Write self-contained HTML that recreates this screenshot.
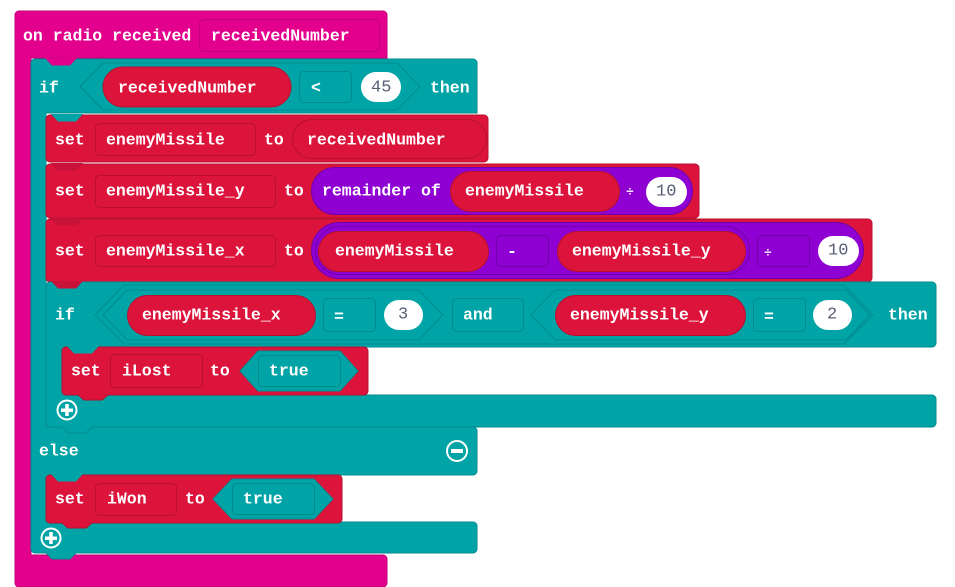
<!DOCTYPE html>
<html><head><meta charset="utf-8"><style>
html,body{margin:0;padding:0;background:#fff;width:955px;height:587px;overflow:hidden}
svg{display:block}
text{font-family:"Liberation Mono","DejaVu Sans Mono",monospace;font-weight:bold;font-size:16.5px;fill:#fff;dominant-baseline:central}
.n{fill:#575e75;font-weight:normal;font-size:17px}
</style></head><body>
<svg width="955" height="587" viewBox="0 0 955 587" xmlns="http://www.w3.org/2000/svg">
<!-- magenta hat -->
<path d="M19 11 H383 a4 4 0 0 1 4 4 V58 H31 V555 H383 a4 4 0 0 1 4 4 V583 a4 4 0 0 1 -4 4 H19 a4 4 0 0 1 -4 -4 V15 a4 4 0 0 1 4 -4Z" fill="#e3008c" stroke="#c4007a" stroke-width="1"/>
<text x="23" y="36">on radio received</text>
<rect x="199.5" y="19.5" width="180" height="32" rx="4" fill="#e3008c" stroke="#c0007a"/>
<text x="211" y="36">receivedNumber</text>

<!-- outer if -->
<path d="M35 59 H46 L52 65 H70 L76 59 H473 a4 4 0 0 1 4 4 V113 H46 V427 H473 a4 4 0 0 1 4 4 V471 a4 4 0 0 1 -4 4 H46 V522 H473 a4 4 0 0 1 4 4 V549 a4 4 0 0 1 -4 4 H76 L70 559 H52 L46 553 H35 a4 4 0 0 1 -4 -4 V63 a4 4 0 0 1 4 -4Z" fill="#00a4a6" stroke="#008b8d"/>
<polygon points="45,58 52,65.5 70,65.5 77,58" fill="#e3008c"/>
<text x="39" y="88">if</text>
<polygon points="80,86.5 103,63 397,63 420,86.5 397,110 103,110" fill="#00a4a6" stroke="#008b8d"/>
<rect x="103" y="67" width="188" height="40" rx="20" fill="#dc143c" stroke="#b8102f"/>
<text x="118" y="88">receivedNumber</text>
<rect x="299.5" y="71.5" width="52" height="31" rx="4" fill="#00a4a6" stroke="#008b8d"/>
<text x="311" y="88">&lt;</text>
<rect x="361" y="72" width="40" height="30" rx="15" fill="#fff"/>
<text class="n" x="371" y="88">45</text>
<text x="430" y="88">then</text>

<!-- set enemyMissile -->
<path d="M50 115 H52 L58 121 H76 L82 115 H484 a4 4 0 0 1 4 4 V158 a4 4 0 0 1 -4 4 H50 a4 4 0 0 1 -4 -4 V119 a4 4 0 0 1 4 -4Z" fill="#dc143c" stroke="#b8102f"/>
<polygon points="51,114 58,121.5 76,121.5 83,114" fill="#00a4a6"/>
<text x="55" y="140">set</text>
<rect x="95.5" y="123.5" width="160" height="32" rx="4" fill="#dc143c" stroke="#b8102f"/>
<text x="106" y="140">enemyMissile</text>
<text x="264" y="140">to</text>
<rect x="292.5" y="119.5" width="194" height="39" rx="19.5" fill="#dc143c" stroke="#b8102f"/>
<text x="307" y="140">receivedNumber</text>

<!-- set enemyMissile_y -->
<path d="M50 164 H52 L58 170 H76 L82 164 H695 a4 4 0 0 1 4 4 V214 a4 4 0 0 1 -4 4 H50 a4 4 0 0 1 -4 -4 V168 a4 4 0 0 1 4 -4Z" fill="#dc143c" stroke="#b8102f"/>
<polygon points="51,163 58,170.5 76,170.5 83,163" fill="#c8123a"/>
<text x="55" y="191">set</text>
<rect x="95.5" y="175.5" width="180" height="32" rx="4" fill="#dc143c" stroke="#b8102f"/>
<text x="106" y="191">enemyMissile_y</text>
<text x="284" y="191">to</text>
<rect x="311.5" y="167.5" width="381" height="47" rx="23.5" fill="#8f00d2" stroke="#7200a8"/>
<text x="322" y="191">remainder of</text>
<rect x="450.5" y="171.5" width="169" height="40" rx="20" fill="#dc143c" stroke="#b8102f"/>
<text x="465" y="191">enemyMissile</text>
<text x="626" y="192" style="font-size:13px">÷</text>
<rect x="646" y="177" width="41" height="30" rx="15" fill="#fff"/>
<text class="n" x="656" y="192">10</text>

<!-- set enemyMissile_x -->
<path d="M50 219 H52 L58 225 H76 L82 219 H868 a4 4 0 0 1 4 4 V278 a4 4 0 0 1 -4 4 H50 a4 4 0 0 1 -4 -4 V223 a4 4 0 0 1 4 -4Z" fill="#dc143c" stroke="#b8102f"/>
<polygon points="51,218 58,225.5 76,225.5 83,218" fill="#c8123a"/>
<text x="55" y="251">set</text>
<rect x="95.5" y="235.5" width="180" height="31" rx="4" fill="#dc143c" stroke="#b8102f"/>
<text x="106" y="251">enemyMissile_x</text>
<text x="284" y="251">to</text>
<rect x="311.5" y="222.5" width="552" height="56" rx="28" fill="#8f00d2" stroke="#7200a8"/>
<rect x="315.5" y="226.5" width="434" height="48" rx="24" fill="#8f00d2" stroke="#7200a8"/>
<rect x="318.5" y="231.5" width="170" height="40" rx="20" fill="#dc143c" stroke="#b8102f"/>
<text x="335" y="251">enemyMissile</text>
<rect x="496.5" y="235.5" width="52" height="31" rx="4" fill="#8f00d2" stroke="#7200a8"/>
<text x="507" y="252">-</text>
<rect x="557.5" y="231.5" width="188" height="40" rx="20" fill="#dc143c" stroke="#b8102f"/>
<text x="572" y="251">enemyMissile_y</text>
<rect x="757.5" y="235.5" width="52" height="31" rx="4" fill="#8f00d2" stroke="#7200a8"/>
<text x="764" y="253" style="font-size:13px">÷</text>
<rect x="818" y="236" width="41" height="30" rx="15" fill="#fff"/>
<text class="n" x="828" y="251">10</text>

<!-- inner if -->
<path d="M50 282 H52 L58 288 H76 L82 282 H932 a4 4 0 0 1 4 4 V343 a4 4 0 0 1 -4 4 H62 V395 H932 a4 4 0 0 1 4 4 V423 a4 4 0 0 1 -4 4 H92 L86 433 H68 L62 427 H50 a4 4 0 0 1 -4 -4 V286 a4 4 0 0 1 4 -4Z" fill="#00a4a6" stroke="#008b8d"/>
<polygon points="51,281 58,288.5 76,288.5 83,281" fill="#c8123a"/>
<text x="55" y="315">if</text>
<polygon points="95,315 124,285 844,285 873,315 844,344 124,344" fill="#00a4a6" stroke="#008b8d"/>
<polygon points="103,315 127,290 419,290 443,315 419,340 127,340" fill="#00a4a6" stroke="#008b8d"/>
<rect x="127.5" y="295.5" width="188" height="40" rx="20" fill="#dc143c" stroke="#b8102f"/>
<text x="142" y="315">enemyMissile_x</text>
<rect x="323.5" y="298.5" width="52" height="33" rx="4" fill="#00a4a6" stroke="#008b8d"/>
<text x="334" y="317">=</text>
<rect x="384" y="300" width="39" height="30" rx="15" fill="#fff"/>
<text class="n" x="398" y="315">3</text>
<rect x="452.5" y="298.5" width="71" height="33" rx="4" fill="#00a4a6" stroke="#008b8d"/>
<text x="463" y="315">and</text>
<polygon points="531,315 555,290 846,290 870,315 846,340 555,340" fill="#00a4a6" stroke="#008b8d"/>
<rect x="555.5" y="295.5" width="190" height="40" rx="20" fill="#dc143c" stroke="#b8102f"/>
<text x="570" y="315">enemyMissile_y</text>
<rect x="753.5" y="298.5" width="52" height="33" rx="4" fill="#00a4a6" stroke="#008b8d"/>
<text x="764" y="317">=</text>
<rect x="813" y="300" width="39" height="30" rx="15" fill="#fff"/>
<text class="n" x="827" y="315">2</text>
<text x="888" y="315">then</text>

<!-- set iLost -->
<path d="M66 347 H68 L74 353 H92 L98 347 H364 a4 4 0 0 1 4 4 V391 a4 4 0 0 1 -4 4 H108 L102 400 H84 L78 395 H66 a4 4 0 0 1 -4 -4 V351 a4 4 0 0 1 4 -4Z" fill="#dc143c" stroke="#b8102f"/>
<polygon points="67,346 74,353.5 92,353.5 99,346" fill="#00a4a6"/>
<text x="71" y="371">set</text>
<rect x="110.5" y="354.5" width="92" height="33" rx="4" fill="#dc143c" stroke="#b8102f"/>
<text x="122" y="371">iLost</text>
<text x="210" y="371">to</text>
<polygon points="240,371 258,351 340,351 358,371 340,391 258,391" fill="#00a4a6" stroke="#008b8d"/>
<rect x="258.5" y="355.5" width="82" height="31" rx="4" fill="#00a4a6" stroke="#008b8d"/>
<text x="269" y="371">true</text>
<circle cx="67" cy="410" r="9.5" fill="none" stroke="#fff" stroke-width="2"/>
<rect x="61" y="408.5" width="12" height="3.5" fill="#fff"/><rect x="65.2" y="404" width="3.6" height="12" fill="#fff"/>

<!-- else -->
<text x="39" y="451">else</text>
<circle cx="457" cy="451" r="10" fill="none" stroke="#fff" stroke-width="2"/>
<rect x="451" y="449" width="12" height="4" fill="#fff"/>

<!-- set iWon -->
<path d="M50 475 H52 L58 481 H76 L82 475 H338 a4 4 0 0 1 4 4 V519 a4 4 0 0 1 -4 4 H92 L86 528 H68 L62 523 H50 a4 4 0 0 1 -4 -4 V479 a4 4 0 0 1 4 -4Z" fill="#dc143c" stroke="#b8102f"/>
<polygon points="51,474 58,481.5 76,481.5 83,474" fill="#00a4a6"/>
<text x="55" y="499">set</text>
<rect x="95.5" y="483.5" width="81" height="32" rx="4" fill="#dc143c" stroke="#b8102f"/>
<text x="107" y="499">iWon</text>
<text x="185" y="499">to</text>
<polygon points="213,499 232,479 314,479 333,499 314,519 232,519" fill="#00a4a6" stroke="#008b8d"/>
<rect x="232.5" y="483.5" width="82" height="31" rx="4" fill="#00a4a6" stroke="#008b8d"/>
<text x="243" y="499">true</text>
<circle cx="51" cy="538" r="9.5" fill="none" stroke="#fff" stroke-width="2"/>
<rect x="45" y="536.5" width="12" height="3.5" fill="#fff"/><rect x="49.2" y="532" width="3.6" height="12" fill="#fff"/>
</svg>
</body></html>
